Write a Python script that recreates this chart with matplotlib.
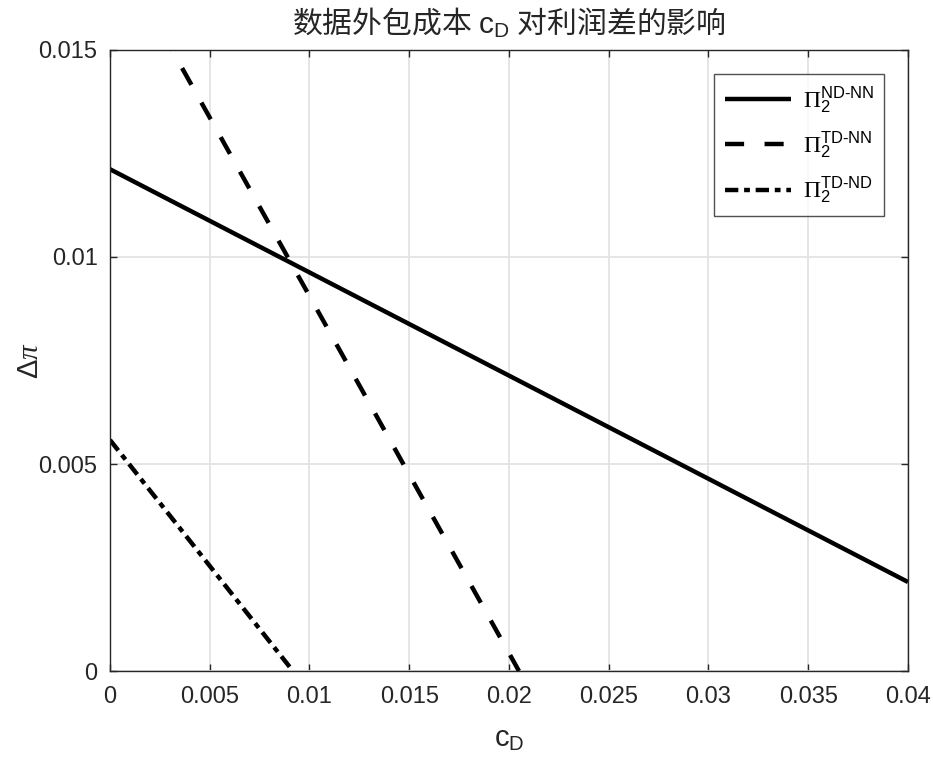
import matplotlib
matplotlib.use('Agg')
import matplotlib.pyplot as plt

# 字体：英文用 Liberation Sans，中文回退到 Noto Sans CJK SC
plt.rcParams['font.family'] = ['Liberation Sans', 'Noto Sans CJK SC']
plt.rcParams['mathtext.fontset'] = 'custom'
plt.rcParams['mathtext.rm'] = 'Liberation Sans'
plt.rcParams['mathtext.it'] = 'Liberation Serif:italic'
plt.rcParams['mathtext.sf'] = 'Liberation Serif'
plt.rcParams['mathtext.tt'] = 'Noto Sans CJK SC'

# 数据（从图中读取的直线端点）
cD_nd_nn = [0.0, 0.04]
pi_nd_nn = [0.01212, 0.00215]

cD_td_nn = [0.0, 0.0205]
pi_td_nn = [0.01768, 0.0]

cD_td_nd = [0.0, 0.00917]
pi_td_nd = [0.00558, 0.0]

labels = [r'$\mathsf{\Pi}_2^{\mathrm{ND\text{-}NN}}$',
          r'$\mathsf{\Pi}_2^{\mathrm{TD\text{-}NN}}$',
          r'$\mathsf{\Pi}_2^{\mathrm{TD\text{-}ND}}$']

xticks = [0, 0.005, 0.01, 0.015, 0.02, 0.025, 0.03, 0.035, 0.04]
xticklabels = ['0', '0.005', '0.01', '0.015', '0.02', '0.025', '0.03', '0.035', '0.04']
yticks = [0, 0.005, 0.01, 0.015]
yticklabels = ['0', '0.005', '0.01', '0.015']

fig = plt.figure(figsize=(9.33, 7.62), dpi=100)
ax = fig.add_axes([0.1179, 0.1194, 0.8553, 0.815])

lw = 3.2
ax.plot(cD_nd_nn, pi_nd_nn, color='black', lw=lw, solid_capstyle='butt', label=labels[0])
ax.plot(cD_td_nn, pi_td_nn, color='black', lw=lw, linestyle=(0, (4.3, 4.6)), label=labels[1])
ax.plot(cD_td_nd, pi_td_nd, color='black', lw=lw, linestyle=(0, (3.0, 1.3, 1.3, 1.3)), label=labels[2])

ax.set_xlim(0, 0.04)
ax.set_ylim(0, 0.015)
ax.set_xticks(xticks)
ax.set_xticklabels(xticklabels)
ax.set_yticks(yticks)
ax.set_yticklabels(yticklabels)

ax.grid(True, color='#e3e3e3', lw=1.3)
ax.set_axisbelow(True)
ax.tick_params(direction='in', length=5, width=1, colors='#262626', labelsize=17,
               top=True, right=True)
ax.tick_params(axis='x', pad=11)
ax.tick_params(axis='y', pad=9)
for s in ax.spines.values():
    s.set_color('#262626')
    s.set_linewidth(1)

ax.set_title(r'$\mathtt{数据外包成本}\ \mathrm{c_D}\ \mathtt{对利润差的影响}$',
             fontsize=21.5, color='#262626', pad=12)
ax.set_xlabel(r'$\mathrm{c_D}$', fontsize=21, color='#262626', labelpad=12)
ax.set_ylabel(r'$\mathrm{\Delta}\mathit{\pi}$', fontsize=21, color='#262626', labelpad=-4)

leg = ax.legend(loc='upper right', fontsize=17, handlelength=2.8, frameon=True, fancybox=False,
                edgecolor='#262626', borderaxespad=1.0, labelspacing=0.6, borderpad=0.45,
                handletextpad=0.5)
leg.get_frame().set_linewidth(1)

fig.savefig('out.png', dpi=100)
